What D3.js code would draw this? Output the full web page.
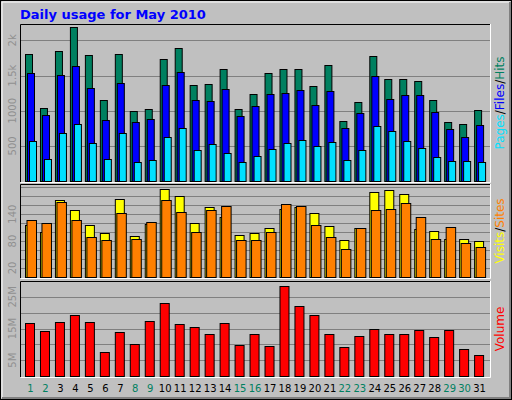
<!DOCTYPE html>
<html>
<head>
<script src="https://d3js.org/d3.v7.min.js"></script>
<style>
  body { margin: 0; background: #fff; }
  text { font-family: "DejaVu Sans", sans-serif; }
</style>
</head>
<body>
<div id="chart"></div>
<script>
const days = d3.range(1, 32)
const weekend = [1, 2, 8, 9, 15, 16, 22, 23, 29, 30]
const hits = [1800, 1043, 1843, 2186, 1786, 1157, 1800, 1000, 1029, 1729, 1886, 1371, 1386, 1600, 1029, 1243, 1543, 1586, 1586, 1357, 1643, 857, 1129, 1771, 1457, 1457, 1429, 1157, 843, 814, 1014]
const files = [1543, 943, 1514, 1629, 1329, 871, 1400, 843, 886, 1371, 1557, 1157, 1143, 1314, 929, 1071, 1243, 1257, 1300, 1086, 1286, 757, 971, 1500, 1171, 1229, 1229, 986, 743, 629, 800]
const pages = [571, 314, 686, 814, 543, 314, 686, 271, 300, 629, 757, 443, 529, 400, 271, 357, 457, 543, 586, 500, 557, 300, 443, 786, 714, 571, 471, 343, 286, 286, 271]
const visits = [116, 100, 171, 149, 116, 98, 173, 91, 118, 196, 180, 120, 156, 133, 93, 98, 109, 151, 156, 142, 113, 82, 109, 189, 193, 184, 107, 102, 84, 84, 80]
const sites = [127, 120, 167, 127, 89, 82, 142, 84, 122, 171, 144, 100, 149, 158, 82, 82, 100, 162, 158, 116, 89, 62, 109, 149, 151, 164, 133, 84, 111, 76, 67]
const volume = [16.6, 14.1, 16.9, 19.2, 16.9, 7.5, 13.8, 10.0, 17.3, 22.9, 16.3, 15.4, 13.2, 16.6, 9.7, 13.2, 9.4, 28.3, 22.0, 19.2, 13.2, 9.1, 12.5, 14.7, 13.2, 13.2, 14.4, 12.2, 14.4, 8.4, 6.5]

const W = 512, H = 400
const svg = d3.select("#chart").append("svg").attr("width", W).attr("height", H)

// frame
svg.append("rect").attr("width", W).attr("height", H).attr("fill", "#c0c0c0")
svg.append("rect").attr("x", 0.5).attr("y", 0.5).attr("width", W - 1).attr("height", H - 1).attr("fill", "none").attr("stroke", "#000")
svg.append("path").attr("d", `M2,${H - 2}V2H${W - 2}`).attr("fill", "none").attr("stroke", "#fff")
svg.append("path").attr("d", `M2,${H - 2}H${W - 2}V2`).attr("fill", "none").attr("stroke", "#808080").attr("stroke-width", 2)

svg.append("text").attr("x", 20).attr("y", 19).attr("fill", "#0000ff")
  .attr("font-size", 13).attr("font-weight", "bold").text("Daily usage for May 2010")

const x = d3.scaleBand().domain(days).range([24, 24 + 31 * 14.97])
const bw = x.bandwidth()

function panel(y0, y1, max, gridStep, labels, fmt) {
  svg.append("rect").attr("x", 20).attr("y", y0).attr("width", 470).attr("height", y1 - y0).attr("fill", "#c0c0c0")
  svg.append("path").attr("d", `M20.5,${y1}V${y0 + 0.5}H490`).attr("fill", "none").attr("stroke", "#000")
  svg.append("path").attr("d", `M20.5,${y1 + 0.5}H490.5V${y0}`).attr("fill", "none").attr("stroke", "#fff")
  const y = d3.scaleLinear().domain([0, max]).range([y1 - 1, y0])
  svg.append("g").selectAll("line").data(d3.range(gridStep, max, gridStep)).join("line")
    .attr("x1", 21).attr("x2", 490).attr("y1", d => Math.round(y(d)) + 0.5).attr("y2", d => Math.round(y(d)) + 0.5)
    .attr("stroke", "#808080")
  svg.append("g").selectAll("text").data(labels).join("text")
    .attr("transform", d => `translate(16,${y(d)}) rotate(-90)`)
    .attr("text-anchor", "middle").attr("font-size", 10).attr("fill", "#909090").text(fmt)
  return y
}

function bars(y, data, off, w, color) {
  svg.append("g").selectAll("rect").data(data).join("rect")
    .attr("x", (d, i) => x(days[i]) + off + 0.5).attr("width", w)
    .attr("y", d => Math.round(y(d)) + 0.5).attr("height", d => y(0) - Math.round(y(d)))
    .attr("fill", color).attr("stroke", "#000")
}

function sideLabel(cy, parts) {
  const t = svg.append("text").attr("transform", `translate(504,${cy}) rotate(-90)`)
    .attr("text-anchor", "middle").attr("font-size", 12)
  parts.forEach(([s, c]) => t.append("tspan").attr("fill", c).text(s))
}

const yTop = panel(24, 182, 2233, 500, [500, 1000, 1500, 2000], d => d >= 1500 ? (d / 1000) + "k" : d)
bars(yTop, hits, 1, 7, "#008060")
bars(yTop, files, 3, 7, "#0000ff")
bars(yTop, pages, 5, 7, "#00e0ff")
sideLabel(103, [["Pages", "#00e0ff"], ["/", "#000"], ["Files", "#0000ff"], ["/", "#000"], ["Hits", "#008060"]])

const yMid = panel(184, 278, 207, 20, [20, 80, 140], d => d)
bars(yMid, visits, 1, 9, "#ffff00")
bars(yMid, sites, 2.5, 9.5, "#ff8000")
sideLabel(231, [["Visits", "#ffff00"], ["/", "#000"], ["Sites", "#ff8000"]])

const yBot = panel(281, 377, 30, 5, [5, 15, 25], d => d + "M")
bars(yBot, volume, 1, 9, "#ff0000")
sideLabel(329, [["Volume", "#ff0000"]])

svg.append("g").selectAll("text").data(days).join("text")
  .attr("x", d => x(d) + 6.5).attr("y", 392).attr("text-anchor", "middle").attr("font-size", 10)
  .attr("fill", d => weekend.includes(d) ? "#008060" : "#000").text(d => d)
</script>
</body>
</html>
